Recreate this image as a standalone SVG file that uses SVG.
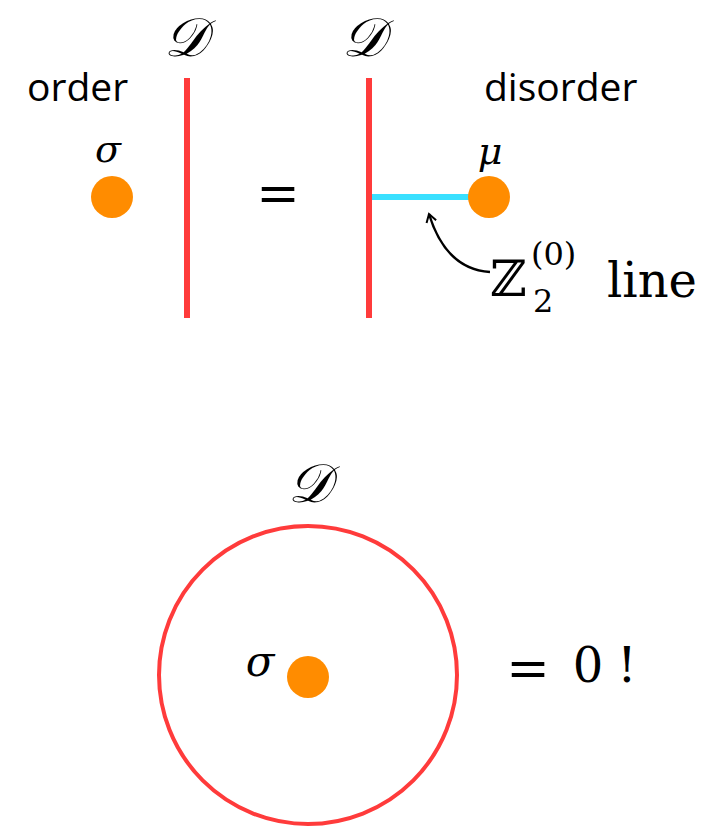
<svg xmlns="http://www.w3.org/2000/svg" width="715" height="831" viewBox="0 0 715 831">
<defs>
<style>
.red{stroke:#FF3B3B;fill:none}
.dot{fill:#FF8C00}
.sans{font-family:"Open Sans","Liberation Sans",sans-serif;font-size:39px;fill:#000}
.math{font-family:"DejaVu Serif","Liberation Serif",serif;fill:#000}
.it{font-style:italic}
.scr{font-family:"DejaVu Serif","Liberation Serif",serif;font-style:italic;font-size:54px;fill:#000}
</style>
<marker id="ah" viewBox="0 0 12 12" refX="10" refY="6" markerWidth="12" markerHeight="12" markerUnits="userSpaceOnUse" orient="auto">
<path d="M2,1 L10,6 L2,11" fill="none" stroke="#000" stroke-width="2"/>
</marker>
</defs>
<rect width="715" height="831" fill="#fff"/>
<g id="connectors">
<line id="cyan-line" x1="372" y1="197" x2="472" y2="197" stroke="#3AE0FF" stroke-width="6"/>
<path id="arrow" d="M490,272 C460,270 440,250 429,214" fill="none" stroke="#000" stroke-width="2.5" marker-end="url(#ah)"/>
</g>
<g id="defect-left">
<line class="red" x1="187" y1="78" x2="187" y2="318" stroke-width="6"/>
<text class="scr" x="185" y="56" text-anchor="middle">𝒟</text>
</g>
<g id="defect-right">
<line class="red" x1="369" y1="78" x2="369" y2="318" stroke-width="6"/>
<text class="scr" x="363" y="56" text-anchor="middle">𝒟</text>
</g>
<g id="order">
<text class="sans" x="27" y="101">order</text>
<text class="math it" x="108" y="162" font-size="38" text-anchor="middle">σ</text>
<circle class="dot" cx="112" cy="197" r="21"/>
</g>
<g id="equals">
<text class="math" x="278" y="211" font-size="52" text-anchor="middle">=</text>
</g>
<g id="disorder">
<text class="sans" x="484" y="101">disorder</text>
<text class="math it" x="490" y="164" font-size="38" text-anchor="middle">μ</text>
<circle class="dot" cx="489" cy="197" r="21"/>
</g>
<g id="z2-label">
<text class="math" x="490" y="296" font-size="50">ℤ</text>
<text class="math" x="531" y="265" font-size="32">(0)</text>
<text class="math" x="533" y="312" font-size="32">2</text>
<text class="math" x="607" y="297" font-size="48">line</text>
</g>
<g id="loop">
<circle class="red" cx="308" cy="675" r="149" stroke-width="4"/>
<text class="scr" x="309" y="502" text-anchor="middle">𝒟</text>
<text class="math it" x="260" y="676" font-size="42" text-anchor="middle">σ</text>
<circle class="dot" cx="308" cy="677" r="21"/>
</g>
<g id="result">
<text class="math" x="528" y="686" font-size="52" text-anchor="middle">=</text>
<text class="math" x="588" y="682" font-size="48" text-anchor="middle">0</text>
<text class="math" x="627" y="682" font-size="48" text-anchor="middle">!</text>
</g>
</svg>
